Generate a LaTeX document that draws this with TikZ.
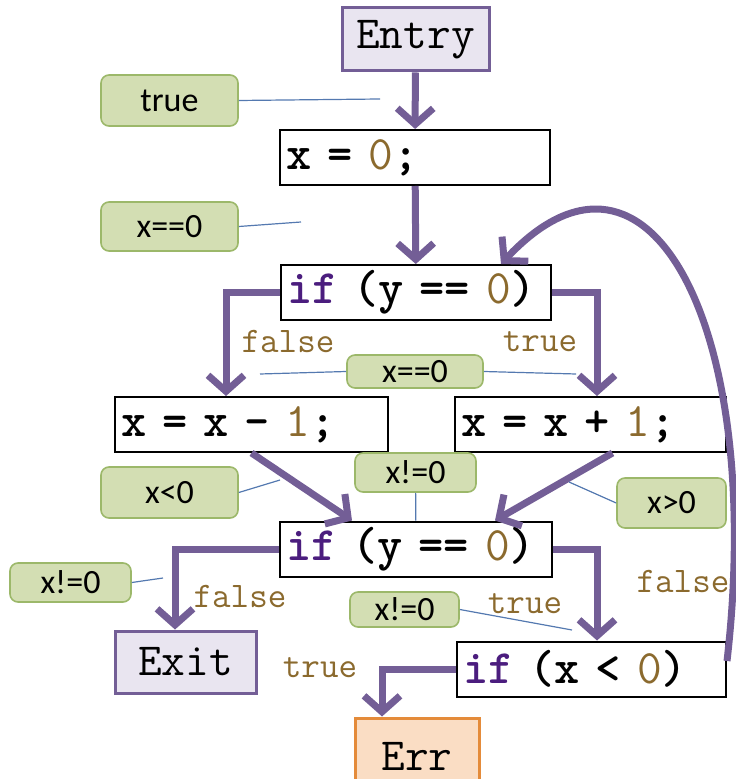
\documentclass[tikz,border=0pt]{standalone}
\usepackage{fontspec}
\usepackage{tikz}
\usetikzlibrary{arrows.meta,positioning}
\usepackage{xcolor}
\newfontfamily\tagfont{Carlito}
\definecolor{flowpurple}{HTML}{735E96}
\definecolor{kwpurple}{HTML}{4B1D7E}
\definecolor{litbrown}{HTML}{8B6A2E}
\definecolor{tagfill}{HTML}{D3DEB3}
\definecolor{tagdraw}{HTML}{9CB86A}
\definecolor{tagline}{HTML}{5479B0}
\definecolor{termfill}{HTML}{E9E5F0}
\definecolor{errfill}{HTML}{FADDC4}
\definecolor{errdraw}{HTML}{E48B3A}
\newcommand{\kwd}[1]{\textcolor{kwpurple}{#1}}
\newcommand{\numlit}[1]{\textcolor{litbrown}{\mdseries #1}}

\begin{document}
\begin{tikzpicture}[
      x=0.5pt, y=-0.5pt,
      code/.style={draw, line width=1pt, fill=white, inner xsep=3pt, inner ysep=0pt,
                   minimum height=27.5pt, align=left,
                   font=\ttfamily\bfseries\fontsize{24}{26}\selectfont},
      term/.style={draw=flowpurple, line width=1.5pt, fill=termfill, inner sep=0pt,
                   font=\ttfamily\fontsize{23}{26}\selectfont},
      tag/.style={draw=tagdraw, line width=0.8pt, fill=tagfill, rounded corners=4pt,
                  inner sep=0pt, font=\tagfont\fontsize{17}{20}\selectfont},
      branch/.style={font=\ttfamily\fontsize{18}{20}\selectfont, text=litbrown, inner sep=0pt},
      flow/.style={-{Straight Barb[length=8pt, width=18pt]}, line width=3.5pt, color=flowpurple},
      note/.style={line width=0.6pt, color=tagline},
    ]
    \useasboundingbox (0,0) rectangle (735,779);

    % blocks
    \node[term, minimum width=73.5pt, minimum height=31.5pt] (entry) at (415.5,39.5) {Entry};
    \node[code, text width=129pt] (x0) at (415,157.5) {x = \numlit{0};};
    \node[code, text width=129pt] (if1) at (416,292.5) {\kwd{if} (y == \numlit{0})};
    \node[code, text width=130.5pt] (xm) at (251.5,424.5) {x = x - \numlit{1};};
    \node[code, text width=129.5pt] (xp) at (590.5,424.5) {x = x + \numlit{1};};
    \node[code, text width=130pt] (if2) at (416,549) {\kwd{if} (y == \numlit{0})};
    \node[term, minimum width=70.5pt, minimum height=31pt] (exit) at (185.5,662) {Exit};
    \node[code, text width=128.5pt] (ifx) at (591.5,669) {\kwd{if} (x < \numlit{0})};
    \node[term, draw=errdraw, fill=errfill, minimum width=62pt, minimum height=38pt] (err) at (417,756) {Err};

    % control flow
    \draw[flow] (entry) -- (x0);
    \draw[flow] (x0) -- (if1);
    \draw[flow] (if1.west) -| ([xshift=-12.75pt]xm.north);
    \draw[flow] (if1.east) -| ([xshift=3.25pt]xp.north);
    \draw[flow] (xm.south) -- ([xshift=-32pt]if2.north);
    \draw[flow] ([xshift=11pt]xp.south) -- ([xshift=39.5pt]if2.north);
    \draw[flow] (if2.west) -| ([xshift=-5.25pt]exit.north);
    \draw[flow] (if2.east) -| ([xshift=2.75pt]ifx.north);
    \draw[flow] (ifx.west) -| ([xshift=-17.5pt]err.north);
    \draw[flow] ([yshift=4pt]ifx.east) .. controls (765,330) and (650,105) .. ([xshift=-25.5pt]if1.north east);

    % branch labels
    \node[branch] (f1) at (288,342) {false};
    \node[branch] (t1) at (540,342) {true};
    \node[branch] (f2) at (240,596) {false};
    \node[branch] (t2) at (525,604) {true};
    \node[branch] (f3) at (683,581) {false};
    \node[branch] (t3) at (320,668) {true};

    % facts
    \node[tag, minimum width=68.5pt, minimum height=25.5pt] (fact1) at (169.5,100.5) {true};
    \node[tag, minimum width=68.5pt, minimum height=24.5pt] (fact2) at (169.5,226.5) {x==0};
    \node[tag, minimum width=68pt, minimum height=16.5pt] (fact3) at (415,371.5) {x==0};
    \node[tag, minimum width=60.5pt, minimum height=19.5pt] (fact4) at (415.5,472.5) {x!=0};
    \node[tag, minimum width=68.5pt, minimum height=25.5pt] (fact5) at (169.5,492.5) {x<0};
    \node[tag, minimum width=54.5pt, minimum height=25pt] (fact6) at (671.5,503) {x>0};
    \node[tag, minimum width=60.5pt, minimum height=19.5pt] (fact7) at (70.5,582.5) {x!=0};
    \node[tag, minimum width=54.5pt, minimum height=17.5pt] (fact8) at (404.5,609.5) {x!=0};

    \coordinate (e1) at (380,99);
    \coordinate (e2) at (301,222);
    \coordinate (e3l) at (260,374);
    \coordinate (e3r) at (576,374);
    \coordinate (e5) at (280,480);
    \coordinate (e6) at (569,482);
    \coordinate (e7) at (163,578);
    \coordinate (e8) at (572,630);

    \draw[note] (fact1.east) -- (e1);
    \draw[note] (fact2.east) -- (e2);
    \draw[note] (fact3.west) -- (e3l);
    \draw[note] (fact3.east) -- (e3r);
    \draw[note] (fact4) -- (if2);
    \draw[note] (fact5.east) -- (e5);
    \draw[note] (fact6.west) -- (e6);
    \draw[note] (fact7.east) -- (e7);
    \draw[note] (fact8.east) -- (e8);
  \end{tikzpicture}
\end{document}
